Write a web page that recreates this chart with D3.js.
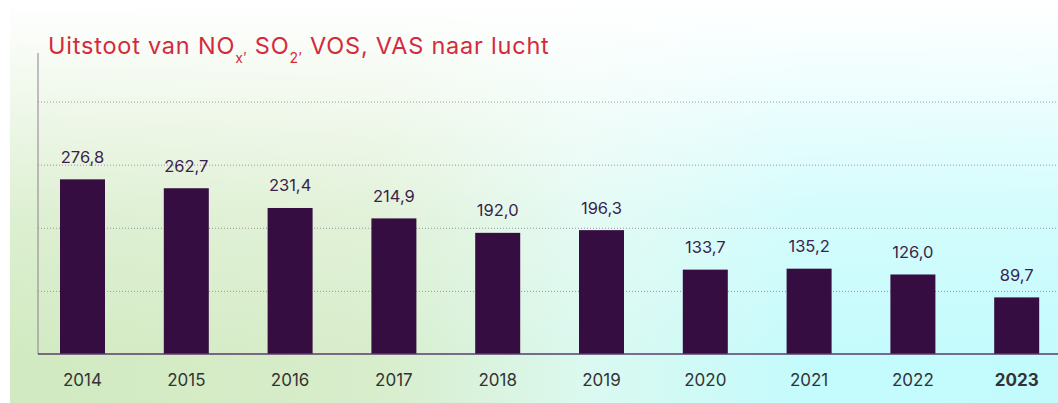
<!DOCTYPE html>
<html>
<head>
<meta charset="utf-8">
<script src="https://cdn.jsdelivr.net/npm/d3@7"></script>
<style>
  html, body { margin: 0; padding: 0; background: #ffffff; }
  svg { display: block; }
  text { font-family: Inter, "Noto Sans", sans-serif; }
</style>
</head>
<body>
<svg id="chart" width="1058" height="403"></svg>
<script>
// ---- data ----
const years = ["2014", "2015", "2016", "2017", "2018", "2019", "2020", "2021", "2022", "2023"];
const emissions = [276.8, 262.7, 231.4, 214.9, 192.0, 196.3, 133.7, 135.2, 126.0, 89.7];
const valueLabels = ["276,8", "262,7", "231,4", "214,9", "192,0", "196,3", "133,7", "135,2", "126,0", "89,7"];
const gridValues = [100, 200, 300, 400];
const highlightYear = "2023";

const svg = d3.select("#chart");
const W = 1058, H = 403;

// ---- background ----
const defs = svg.append("defs");
const gH = defs.append("linearGradient").attr("id", "bgH")
  .attr("x1", "0").attr("y1", "0").attr("x2", "1").attr("y2", "0");
gH.append("stop").attr("offset", "0").attr("stop-color", "#d1eac1");
gH.append("stop").attr("offset", "0.35").attr("stop-color", "#d8edcb");
gH.append("stop").attr("offset", "0.55").attr("stop-color", "#dbf9f0");
gH.append("stop").attr("offset", "0.75").attr("stop-color", "#c5fbfc");
gH.append("stop").attr("offset", "1").attr("stop-color", "#c3fbfd");
const gV = defs.append("linearGradient").attr("id", "bgV")
  .attr("x1", "0").attr("y1", "0").attr("x2", "0").attr("y2", "1");
gV.append("stop").attr("offset", "0").attr("stop-color", "#ffffff").attr("stop-opacity", 1);
gV.append("stop").attr("offset", "0.12").attr("stop-color", "#ffffff").attr("stop-opacity", 0.85);
gV.append("stop").attr("offset", "0.55").attr("stop-color", "#ffffff").attr("stop-opacity", 0.25);
gV.append("stop").attr("offset", "0.9").attr("stop-color", "#ffffff").attr("stop-opacity", 0);

svg.append("rect").attr("x", 10).attr("y", 0).attr("width", W - 10).attr("height", H).attr("fill", "url(#bgH)");
svg.append("rect").attr("x", 10).attr("y", 0).attr("width", W - 10).attr("height", H).attr("fill", "url(#bgV)");

// ---- scales ----
const x = d3.scaleBand().domain(years).range([30.6, 1068.6])
  .paddingInner(0.5665).paddingOuter(0.2833);
const y = d3.scaleLinear().domain([0, 400]).range([354, 101.6]);
const axisX = 38;

// ---- grid ----
const grid = svg.append("g").attr("transform", `translate(${axisX},0)`)
  .call(d3.axisLeft(y).tickValues(gridValues).tickSize(-(W - axisX)).tickFormat(""));
grid.select(".domain").remove();
grid.selectAll(".tick line")
  .attr("stroke", "#9d97a3").attr("stroke-width", 1).attr("stroke-dasharray", "1,2");

// ---- y axis line ----
svg.append("line").attr("x1", axisX).attr("x2", axisX).attr("y1", 53).attr("y2", y(0))
  .attr("stroke", "#8d7f95").attr("stroke-width", 1);

// ---- bars ----
svg.append("g").selectAll("rect").data(years).join("rect")
  .attr("x", d => x(d))
  .attr("width", x.bandwidth())
  .attr("y", (d, i) => y(emissions[i]))
  .attr("height", (d, i) => y(0) - y(emissions[i]))
  .attr("fill", "#350d40");

// ---- baseline ----
svg.append("line").attr("x1", axisX).attr("x2", W).attr("y1", y(0)).attr("y2", y(0))
  .attr("stroke", "#5a3b6b").attr("stroke-width", 1.5);

// ---- value labels ----
svg.append("g").selectAll("text").data(years).join("text")
  .attr("x", d => x(d) + x.bandwidth() / 2)
  .attr("y", (d, i) => y(emissions[i]) - 16.5)
  .attr("text-anchor", "middle")
  .attr("font-size", 16.5)
  .attr("fill", "#3b1f4c")
  .text((d, i) => valueLabels[i]);

// ---- x axis labels ----
const xa = svg.append("g").attr("transform", `translate(0,${y(0)})`)
  .call(d3.axisBottom(x).tickSize(0).tickPadding(0));
xa.select(".domain").remove();
xa.selectAll(".tick text")
  .attr("dy", null).attr("y", 32)
  .attr("font-family", "Inter, 'Noto Sans', sans-serif")
  .attr("font-size", 17)
  .attr("fill", "#333333")
  .attr("font-weight", d => d === highlightYear ? 700 : 400);

// ---- title ----
const title = svg.append("text").attr("x", 48).attr("y", 54)
  .attr("font-size", 23.5).attr("letter-spacing", 0.78).attr("fill", "#d52a3b");
title.append("tspan").text("Uitstoot van NO");
title.append("tspan").attr("font-size", 14).attr("dy", 9).text("x\u2032");
title.append("tspan").attr("dy", -9).text(" SO");
title.append("tspan").attr("font-size", 14).attr("dy", 9).text("2\u2032");
title.append("tspan").attr("dy", -9).text(" VOS, VAS naar lucht");
</script>
</body>
</html>
